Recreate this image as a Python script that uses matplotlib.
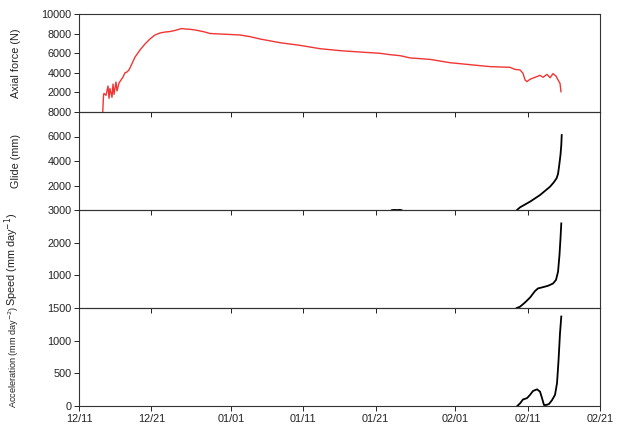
import matplotlib
matplotlib.use("Agg")
import matplotlib.pyplot as plt

plt.rcParams['font.family'] = ['Liberation Sans', 'DejaVu Sans']

# x = days since 12/11
xtick_pos = [0, 10, 21, 31, 41, 52, 62, 72]
xtick_labels = ['12/11', '12/21', '01/01', '01/11', '01/21', '02/01', '02/11', '02/21']

force_day = [3.28, 3.39, 3.45, 3.73, 4.01, 4.15, 4.28, 4.56, 4.70, 4.84, 5.11, 5.25, 5.53,
             5.80, 6.08, 6.36, 6.63, 6.91, 7.74, 8.43, 9.12, 9.81, 10.50, 11.19, 11.89,
             12.58, 13.27, 13.96, 14.23, 14.65, 15.34, 16.03, 16.72, 17.41, 18.10, 19.49,
             22.25, 23.63, 25.01, 27.78, 30.54, 33.31, 36.07, 38.83, 41.60, 42.98, 44.36,
             45.74, 48.51, 51.27, 54.04, 56.80, 59.56, 60.25, 60.95, 61.36, 61.64, 61.91,
             62.33, 63.02, 63.71, 64.12, 64.68, 65.09, 65.51, 65.92, 66.20, 66.47, 66.61]
force_val = [0, 1700, 1900, 1700, 2650, 1400, 2400, 1500, 2850, 1800, 3060, 2150, 2960,
             3260, 3570, 4000, 4080, 4290, 5600, 6330, 6940, 7450, 7860, 8060, 8160,
             8210, 8320, 8470, 8520, 8470, 8440, 8370, 8270, 8160, 8010, 7960,
             7860, 7690, 7450, 7070, 6800, 6460, 6260, 6120, 5990, 5850, 5750,
             5520, 5370, 5030, 4830, 4630, 4560, 4350, 4290, 3950, 3270, 3100,
             3340, 3540, 3740, 3540, 3840, 3500, 3910, 3670, 3270, 2930, 2070]

glide_day = [60.53, 60.95, 62.33, 63.71, 65.09, 65.6, 66.00, 66.2, 66.34, 66.54, 66.65, 66.71]
glide_val = [0, 220, 680, 1220, 1900, 2250, 2590, 2950, 3540, 4500, 5300, 6120]
blip_day = [43.2, 43.5, 44.0, 44.3, 44.6]
blip_val = [0, 25, 10, 30, 0]

speed_day = [60.49, 60.95, 61.64, 62.33, 63.02, 63.43, 63.99, 64.82, 65.51, 65.92,
             66.20, 66.40, 66.54, 66.65]
speed_val = [0, 40, 170, 320, 520, 600, 630, 680, 750, 860, 1110, 1620, 2130, 2590]

acc_day = [60.57, 60.95, 61.36, 61.91, 62.33, 62.74, 63.30, 63.71, 63.99, 64.26,
           64.54, 64.95, 65.37, 65.78, 66.06, 66.27, 66.47, 66.65]
acc_val = [0, 40, 100, 120, 170, 230, 255, 220, 120, 15, 15, 30, 90, 170, 350, 700,
           1110, 1370]

panels = [
    (force_day, force_val, 10000, [2000, 4000, 6000, 8000, 10000], 'Axial force (N)', 7.8, '#f03535', 1.0),
    (glide_day, glide_val, 8000, [2000, 4000, 6000, 8000], 'Glide (mm)', 7.8, 'black', 1.3),
    (speed_day, speed_val, 3000, [1000, 2000, 3000], 'Speed (mm day$^{-1}$)', 7.8, 'black', 1.3),
    (acc_day, acc_val, 1500, [0, 500, 1000, 1500], 'Acceleration (mm day$^{-2}$)', 6.6, 'black', 1.3),
]

fig, axes = plt.subplots(4, 1, sharex=True, figsize=(6.22, 4.32), dpi=100)
fig.subplots_adjust(left=79/622, right=600/622, top=1-14/432, bottom=1-406/432, hspace=0)

for ax, (xd, yd, ymax, yt, lab, lsize, col, lw) in zip(axes, panels):
    ax.set_facecolor('none')
    ax.plot(xd, yd, color=col, lw=lw, solid_joinstyle='round')
    ax.set_ylim(0, ymax)
    ax.set_yticks(yt)
    ax.set_xlim(0, 72)
    ax.set_xticks(xtick_pos)
    ax.tick_params(direction='out', length=3.5, width=0.7, labelsize=7.8, colors='#222222', pad=2)
    for s in ax.spines.values():
        s.set_linewidth(0.8)
        s.set_color('#333333')
    ax.set_ylabel(lab, fontsize=lsize, color='#222222')
    ax.yaxis.set_label_coords(-0.112, 0.5)

axes[1].plot(blip_day, blip_val, color='black', lw=1.0)
axes[-1].set_xticklabels(xtick_labels)

fig.savefig('out.png', dpi=100)
